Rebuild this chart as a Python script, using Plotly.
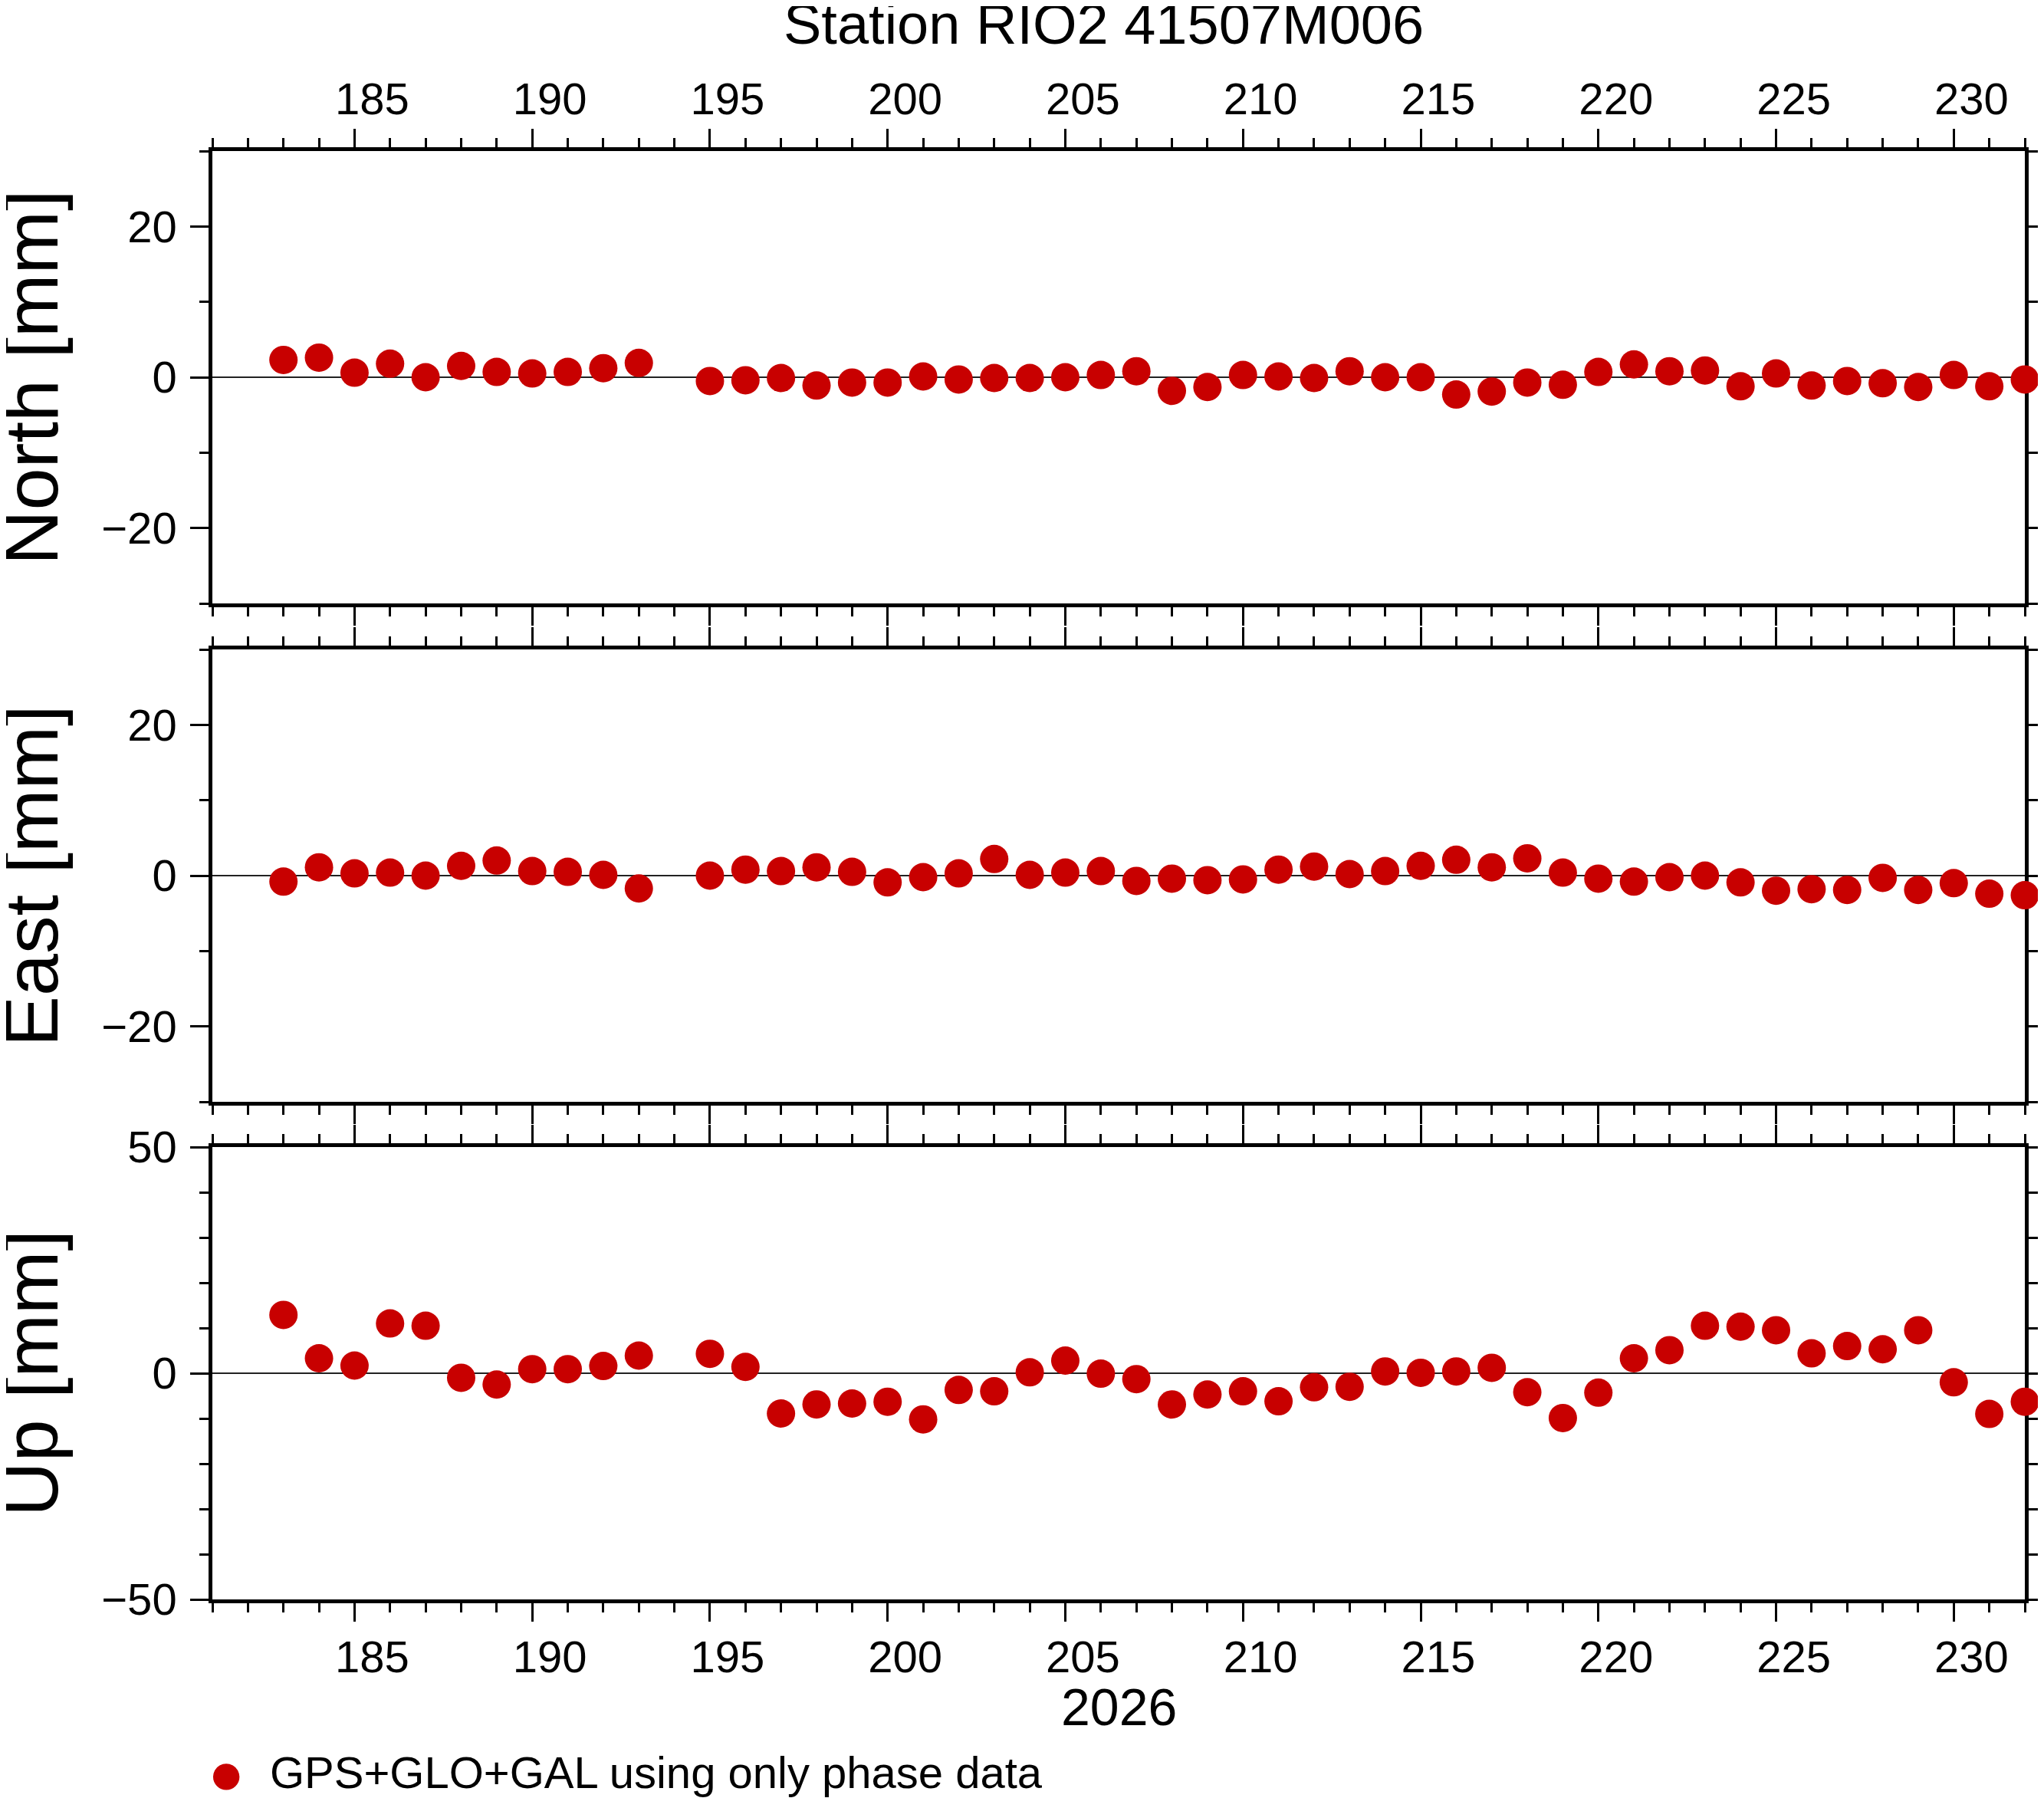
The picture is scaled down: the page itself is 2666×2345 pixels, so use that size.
import plotly.graph_objects as go

# --- Data -------------------------------------------------------------------
TITLE = "Station RIO2 41507M006"
YEAR = "2026"
SOLUTION = "GPS+GLO+GAL using only phase data"

# day of year (no solution on day 194)
DAYS = [183, 184, 185, 186, 187, 188, 189, 190, 191, 192, 193,
        195, 196, 197, 198, 199, 200, 201, 202, 203, 204, 205, 206, 207, 208,
        209, 210, 211, 212, 213, 214, 215, 216, 217, 218, 219, 220, 221, 222,
        223, 224, 225, 226, 227, 228, 229, 230, 231, 232]

# residuals in mm
NORTH = [2.3, 2.6, 0.6, 1.8, 0.0, 1.5, 0.7, 0.5, 0.7, 1.2, 1.9,
         -0.5, -0.4, -0.1, -1.1, -0.7, -0.7, 0.1, -0.3, -0.1, -0.1, 0.0, 0.3, 0.8, -1.8,
         -1.3, 0.3, 0.1, -0.1, 0.8, 0.0, 0.0, -2.3, -1.9, -0.7, -1.0, 0.7, 1.7, 0.8,
         0.9, -1.2, 0.5, -1.1, -0.5, -0.8, -1.3, 0.3, -1.2, -0.3]
EAST = [-0.8, 1.1, 0.3, 0.4, 0.0, 1.3, 2.0, 0.6, 0.5, 0.1, -1.7,
        0.0, 0.8, 0.6, 1.1, 0.5, -0.9, -0.2, 0.3, 2.2, 0.1, 0.4, 0.6, -0.7, -0.4,
        -0.6, -0.5, 0.8, 1.2, 0.2, 0.6, 1.3, 2.1, 1.1, 2.3, 0.4, -0.4, -0.8, -0.2,
        0.0, -0.9, -2.0, -1.8, -1.9, -0.3, -1.9, -1.0, -2.4, -2.6]
UP = [12.9, 3.3, 1.7, 11.0, 10.5, -1.0, -2.5, 0.9, 0.9, 1.6, 3.9,
      4.3, 1.4, -8.9, -6.9, -6.7, -6.3, -10.2, -3.7, -4.0, 0.2, 2.8, -0.1, -1.3, -6.9,
      -4.7, -4.0, -6.2, -3.1, -3.0, 0.4, 0.1, 0.4, 1.2, -4.2, -9.9, -4.3, 3.3, 5.1,
      10.5, 10.3, 9.5, 4.4, 6.0, 5.3, 9.5, -2.0, -9.0, -6.3]

PANELS = ["North [mm]", "East [mm]", "Up [mm]"]

# --- Style ------------------------------------------------------------------
W, H = 2666, 2345
OFF = 8  # default body margin of the html page
FONT = "Liberation Sans, Arial, Helvetica, sans-serif"
RED = "rgb(200,0,0)"
X_RANGE = [181, 232]
Y_RANGES = [[-30, 30], [-30, 30], [-50, 50]]
Y_DTICK = [20, 20, 50]
# panel boxes in screen pixels (top, bottom)
BOXES = [(197, 787), (847, 1437), (1496, 2086)]
LEFT, RIGHT = 277, 2641


def px_x(x):
    return (x - OFF) / W


def px_y(y):
    return 1 - (y - OFF) / H


axis_common = dict(
    showline=True, linecolor="black", linewidth=4.5, mirror="ticks",
    ticks="outside", tickcolor="black", tickwidth=2.5, ticklen=24,
    showgrid=False, layer="below traces",
    tickfont=dict(family=FONT, size=58, color="black"),
)

fig = go.Figure()
for i, vals in enumerate([NORTH, EAST, UP]):
    n = "" if i == 0 else str(i + 1)
    fig.add_trace(go.Scatter(
        x=DAYS, y=vals, mode="markers", xaxis="x" + n, yaxis="y" + n,
        marker=dict(color=RED, size=37, line=dict(width=0)),
        cliponaxis=False, name=SOLUTION, showlegend=False,
    ))

    top, bottom = BOXES[i]
    fig.update_layout({
        "xaxis" + n: dict(
            axis_common, anchor="y" + n, domain=[px_x(LEFT), px_x(RIGHT)],
            range=X_RANGE, dtick=5, tick0=0, zeroline=False,
            minor=dict(dtick=1, ticks="outside", ticklen=12, tickwidth=2.5, tickcolor="black"),
            side="top" if i == 0 else "bottom",
            showticklabels=(i != 1),
            ticklabelstandoff=-4 if i == 0 else -3,
            ticklabelshift=23,
        ),
        "yaxis" + n: dict(
            axis_common, anchor="x" + n, domain=[px_y(bottom), px_y(top)],
            range=Y_RANGES[i], dtick=Y_DTICK[i], tick0=0,
            minor=dict(dtick=10, ticks="outside", ticklen=12, tickwidth=2.5, tickcolor="black"),
            zeroline=True, zerolinecolor="#222", zerolinewidth=1.5,
            ticklabelstandoff=6,
        ),
    })

    # component label on the left
    fig.add_annotation(
        text=PANELS[i], xref="paper", yref="paper", x=px_x(40), y=px_y((top + bottom) / 2),
        textangle=-90, showarrow=False, xanchor="center", yanchor="middle",
        font=dict(family=FONT, size=99, color="black"),
    )

fig.add_annotation(
    text=TITLE, xref="paper", yref="paper", x=px_x(1439), y=px_y(32),
    showarrow=False, xanchor="center", yanchor="middle",
    font=dict(family=FONT, size=74, color="black"),
)
fig.add_annotation(
    text=YEAR, xref="paper", yref="paper", x=px_x(1459), y=px_y(2226),
    showarrow=False, xanchor="center", yanchor="middle",
    font=dict(family=FONT, size=68, color="black"),
)

# legend key below the panels
fig.add_annotation(
    text="\u25cf", xref="paper", yref="paper", x=px_x(295), y=px_y(2312),
    showarrow=False, xanchor="center", yanchor="middle",
    font=dict(family=FONT, size=80, color=RED),
)
fig.add_annotation(
    text=SOLUTION, xref="paper", yref="paper", x=px_x(350), y=px_y(2311),
    showarrow=False, xanchor="left", yanchor="middle",
    font=dict(family=FONT, size=58, color="black"),
)

fig.update_layout(
    width=W, height=H,
    margin=dict(l=0, r=0, t=0, b=0, autoexpand=False),
    paper_bgcolor="white", plot_bgcolor="white",
    showlegend=False,
)

fig.write_html("out.html")
